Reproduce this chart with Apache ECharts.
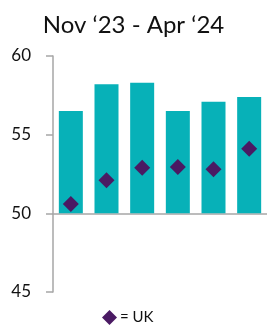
<!DOCTYPE html>
<html>
<head>
<meta charset="utf-8">
<script src="https://cdn.jsdelivr.net/npm/echarts@6/dist/echarts.min.js"></script>
<style>
  html, body { margin: 0; padding: 0; background: #fff; }
  #chart { width: 267px; height: 327px; }
</style>
</head>
<body>
<div id="chart"></div>
<script>
// months Nov '23 - Apr '24
const months = ["Nov", "Dec", "Jan", "Feb", "Mar", "Apr"];
const barValues = [56.5, 58.2, 58.3, 56.5, 57.1, 57.4];
const ukValues = [50.6, 52.1, 52.9, 52.95, 52.8, 54.1];
const yTicks = [45, 50, 55, 60];

// bars grow from 50, so plot everything relative to it
const baseline = 50;

const chart = echarts.init(document.getElementById("chart"));

const option = {
  animation: false,
  title: {
    text: "Nov \u201823 - Apr \u201824",
    left: "center",
    top: 8,
    textStyle: {
      fontFamily: "Lato",
      fontWeight: "normal",
      fontSize: 24,
      color: "#111",
    },
  },
  legend: {
    bottom: 2,
    left: 102,
    padding: 0,
    itemWidth: 15,
    itemHeight: 15,
    itemGap: 4,
    data: [{ name: "= UK", icon: "diamond" }],
    itemStyle: { opacity: 1 },
    textStyle: {
      fontFamily: "Lato",
      fontSize: 15,
      color: "#111",
      padding: [0, 0, 0, -2],
    },
  },
  grid: {
    left: 53,
    right: -4,
    top: 56,
    bottom: 35,
    containLabel: false,
  },
  xAxis: {
    type: "category",
    data: months,
    axisLine: { onZero: true, lineStyle: { color: "#a6a6a6", width: 1.5 } },
    axisTick: { show: false },
    axisLabel: { show: false },
    splitLine: { show: false },
  },
  yAxis: {
    type: "value",
    min: yTicks[0] - baseline,
    max: yTicks[yTicks.length - 1] - baseline,
    interval: 5,
    axisLine: { show: true, lineStyle: { color: "#a6a6a6", width: 1.5 } },
    axisTick: { show: true, length: 7, lineStyle: { color: "#a6a6a6", width: 1.5 } },
    axisLabel: {
      margin: 22,
      fontFamily: "Lato",
      fontSize: 17,
      color: "#111",
      formatter: (v) => String(v + baseline),
    },
    splitLine: { show: false },
  },
  series: [
    {
      name: "bars",
      type: "bar",
      data: barValues.map((v) => v - baseline),
      barWidth: 24,
      itemStyle: { color: "#07b1b8" },
    },
    {
      name: "= UK",
      type: "scatter",
      data: ukValues.map((v) => v - baseline),
      symbol: "diamond",
      symbolSize: 16,
      itemStyle: { color: "#4a1a63", opacity: 1 },
      z: 3,
    },
  ],
};

chart.setOption(option);
</script>
</body>
</html>
